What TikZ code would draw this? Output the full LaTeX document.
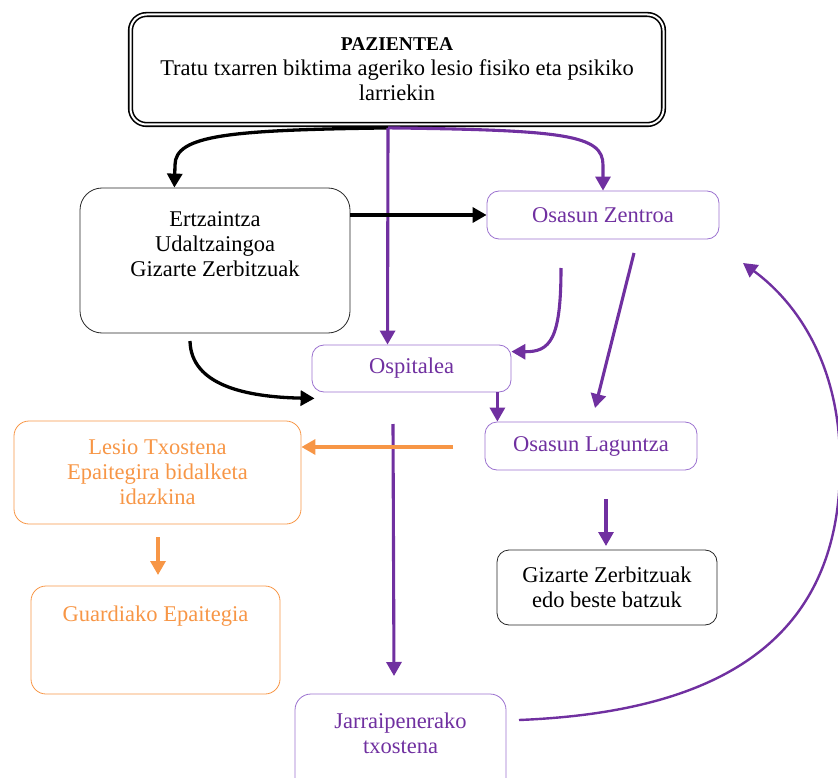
\documentclass[tikz,border=0pt]{standalone}
\usepackage{fontspec}
\setmainfont{Liberation Serif}
\usepackage{tikz}
\usetikzlibrary{calc}
\usetikzlibrary{positioning}
\usetikzlibrary{arrows.meta}
\definecolor{violeta}{HTML}{7030A0}
\definecolor{violetabox}{HTML}{9B72CF}
\definecolor{laranja}{HTML}{F79646}

\begin{document}
\begin{tikzpicture}
  [
    x=1pt, y=-1pt,
    >={Triangle[length=14pt,width=15pt]},
    every node/.style={font=\fontsize{22.5}{25}\selectfont, align=center, inner sep=0pt},
    box/.style = {draw, rectangle, rounded corners=12pt, line width=0.8pt},
    blackbox/.style = {box, draw=black!85},
    purplebox/.style = {box, draw=violetabox, text=violeta},
    orangebox/.style = {box, draw=laranja, text=laranja, rounded corners=15pt},
    titlebox/.style = {draw, double, double distance=2pt, line width=1.6pt, rounded corners=16pt},
    blackarrow/.style = {->, line width=3.3pt, black},
    purplearrow/.style = {->, line width=3.1pt, violeta},
    orangearrow/.style = {->, line width=3.3pt, laranja},
  ]

  \useasboundingbox (0,0) rectangle (838,778);

  % the boxes
  \node (pazi) at (397,69.5) [titlebox, minimum width=533pt, minimum height=110pt]
    {{\fontsize{19.5}{25}\selectfont\bfseries PAZIENTEA}\\Tratu txarren biktima ageriko lesio fisiko eta psikiko\\larriekin};

  \node (ertz) at (215,260.5) [blackbox, rounded corners=22pt, minimum width=270pt, minimum height=145pt]
    {Ertzaintza\\Udaltzaingoa\\Gizarte Zerbitzuak\\\rule{0pt}{31pt}};
  \node (zentro) at (603,215) [purplebox, minimum width=232pt, minimum height=48pt] {Osasun Zentroa};
  \node (ospi) at (411.5,368.5) [purplebox, minimum width=199pt, minimum height=47pt] {Ospitalea};
  \node (lagun) at (591,446) [purplebox, minimum width=212pt, minimum height=48pt] {Osasun Laguntza};

  \node (lesio) at (157.5,472.5) [orangebox, minimum width=287pt, minimum height=103pt]
    {Lesio Txostena\\Epaitegira bidalketa\\idazkina};
  \node (guard) at (155.5,640) [orangebox, minimum width=249pt, minimum height=108pt]
    {Guardiako Epaitegia\\\rule{0pt}{46pt}};
  \node (gizar) at (607,587.5) [blackbox, minimum width=220pt, minimum height=75pt]
    {Gizarte Zerbitzuak\\edo beste batzuk};
  \node (jarrai) at (400.5,749) [purplebox, rounded corners=16pt, minimum width=211pt, minimum height=110pt]
    {Jarraipenerako\\txostena\\\rule{0pt}{31pt}};

  % connector points
  \coordinate (fork) at ($(pazi.south)+(-9,2.6)$);
  \coordinate (ertzin) at ($(ertz.north west)!0.35!(ertz.north east)$);
  \coordinate (ospiin) at ($(ospi.north west)!0.38!(ospi.north east)$);
  \coordinate (ospiR) at ($(ospi.north east)+(0,7)$);
  \coordinate (ospiL) at ($(ospi.south west)+(3,6)$);
  \coordinate (ospiB) at ($(ospi.south east)+(-14,0)$);
  \coordinate (zs1) at (561,268);
  \coordinate (zs2) at (634,253);
  \coordinate (lagunin) at (595,408);
  \coordinate (es) at (190,341);
  \coordinate (vs) at (393,424);
  \coordinate (jarraiin) at (394,676);
  \coordinate (os) at (453,447);
  \coordinate (ls) at (158,537);
  \coordinate (guardin) at (158,575);
  \coordinate (gs) at (606,499);
  \coordinate (gizarin) at (606,546);
  \coordinate (back) at (519,720);
  \coordinate (backend) at (743,263);

  % from the patient
  \draw[blackarrow] (fork) .. controls (230,130) and (175,135) .. (175,165) -- (ertzin);
  \draw[purplearrow] (fork) -- (ospiin);
  \draw[purplearrow] (fork) .. controls (565,130) and (603,135) .. (603,165) -- (zentro.north);

  % middle
  \draw[blackarrow] (ertz.east |- zentro.west) -- (zentro.west);
  \draw[purplearrow] (zs1) .. controls (561,340) and (550,352) .. (ospiR);
  \draw[purplearrow] (zs2) -- (lagunin);
  \draw[blackarrow] (es) .. controls (191,385) and (245,397) .. (ospiL);
  \draw[purplearrow] (ospiB) -- (ospiB |- lagun.north);
  \draw[purplearrow] (vs) -- (jarraiin);

  % lower part
  \draw[orangearrow] (os) -- (lesio.east |- os);
  \draw[orangearrow] (ls) -- (guardin);
  \draw[purplearrow] (gs) -- (gizarin);
  \draw[purplearrow, line width=2.4pt] (back) .. controls (720,712) and (838,640) .. (840,470)
    .. controls (842,370) and (800,305) .. (backend);

\end{tikzpicture}
\end{document}
